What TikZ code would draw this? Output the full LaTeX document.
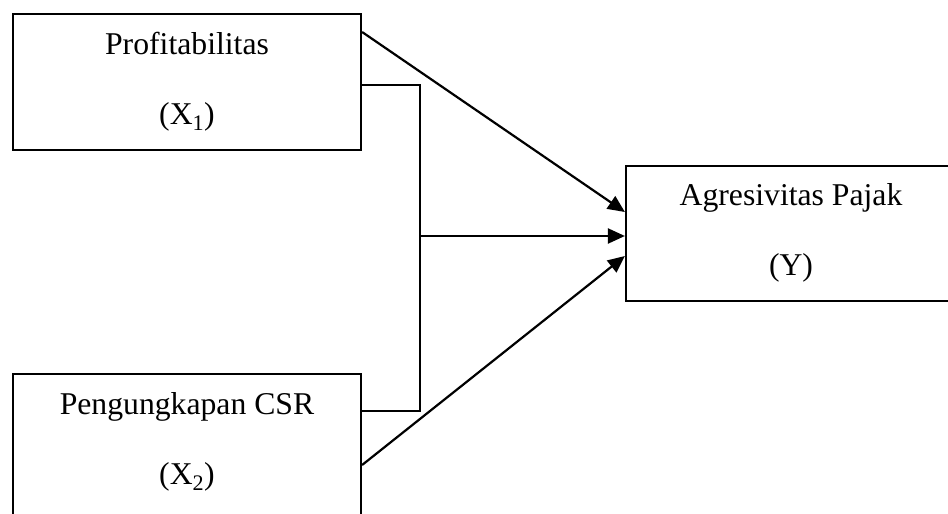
\documentclass[tikz,border=0pt]{standalone}
\usepackage{fontspec}
\setmainfont{Liberation Serif}
\usetikzlibrary{arrows.meta,calc}
\begin{document}
\begin{tikzpicture}[x=1pt,y=-1pt,
  box/.style={draw=black,line width=2.2pt,rectangle,inner sep=0pt},
  lbl/.style={align=center,font=\fontsize{31.7}{70}\selectfont,inner sep=0pt},
  conn/.style={draw=black,line width=2.2pt},
  arr/.style={conn,-{Triangle[length=17pt,width=15pt]}}]
\useasboundingbox (0,0) rectangle (948,514);
\clip (0,0) rectangle (948,514);
\node[box,minimum width=348pt,minimum height=136pt] (b1) at (187,82) {};
\node[lbl] (t1) at (187,81.5) {Profitabilitas\\(X\textsubscript{1})};
\node[box,minimum width=348pt,minimum height=170pt] (b2) at (187,459) {};
\node[lbl] (t2) at (187,441.5) {Pengungkapan CSR\\(X\textsubscript{2})};
\node[box,minimum width=330pt,minimum height=135pt] (by) at (791,233.5) {};
\node[lbl] (ty) at (791,232.5) {Agresivitas Pajak\\(Y)};
\coordinate (j1) at (420,85);
\coordinate (j2) at (420,411);
\coordinate (jm) at (420,236);
\coordinate (s1) at (0,32);
\coordinate (e1) at (0,212);
\coordinate (s2) at (0,465);
\coordinate (e2) at (0,256);
\draw[conn] (j1 -| b1.east) -- (j1) -- (j2) -- (j2 -| b2.east);
\draw[arr] (jm) -- (jm -| by.west);
\draw[arr] (b1.east |- s1) -- (by.west |- e1);
\draw[arr] (b2.east |- s2) -- (by.west |- e2);
\end{tikzpicture}
\end{document}
